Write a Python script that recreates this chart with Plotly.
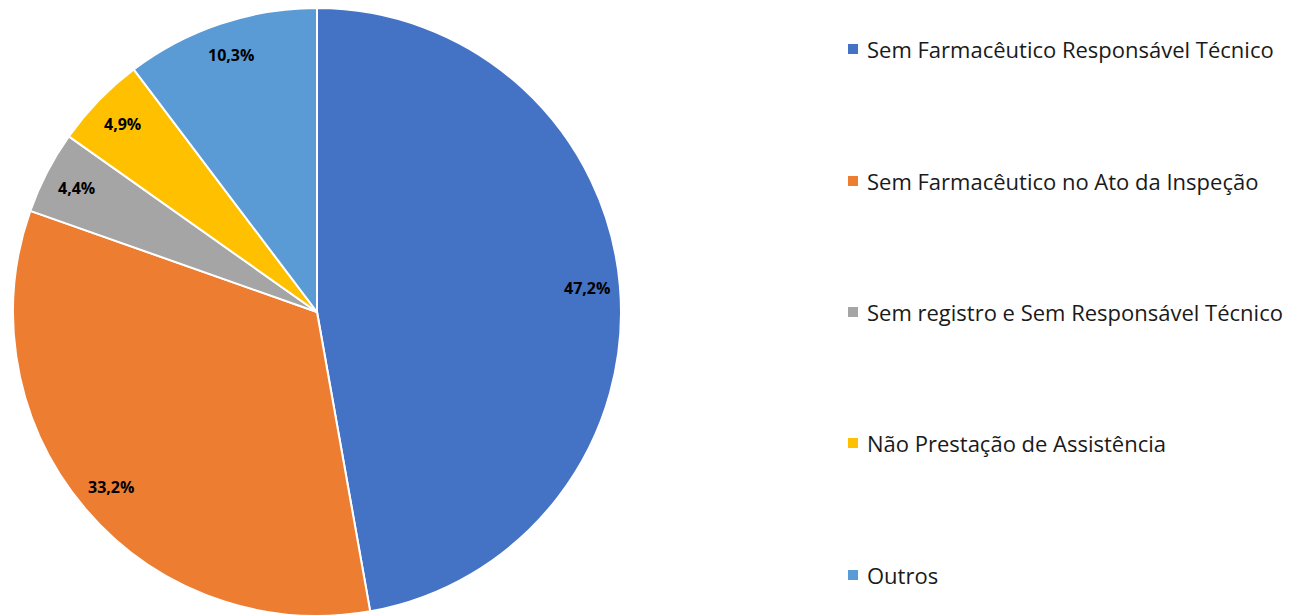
import math
import plotly.graph_objects as go

categories = [
    "Sem Farmacêutico Responsável Técnico",
    "Sem Farmacêutico no Ato da Inspeção",
    "Sem registro e Sem Responsável Técnico",
    "Não Prestação de Assistência",
    "Outros",
]
values = [47.2, 33.2, 4.4, 4.9, 10.3]
value_labels = ["47,2%", "33,2%", "4,4%", "4,9%", "10,3%"]
colors = ["#4472C4", "#ED7D31", "#A5A5A5", "#FFC000", "#5B9BD5"]

W, H = 1300, 616
OFF = 8  # page body margin
cx, cy, R = 317 - OFF, 312 - OFF, 304
dom_x = [(cx - R) / W, (cx + R) / W]
dom_y = [max(0, 1 - (cy + R) / H), min(1, 1 - (cy - R) / H)]

fig = go.Figure()
fig.add_trace(go.Pie(
    labels=categories, values=values, sort=False, direction="clockwise",
    rotation=0, textinfo="none", hoverinfo="label+percent",
    marker=dict(colors=colors, line=dict(color="white", width=2)),
    domain=dict(x=dom_x, y=dom_y), showlegend=False,
))

# data labels placed along each slice's mid-angle
total = sum(values)
cum = 0.0
for v, lab in zip(values, value_labels):
    mid = (cum + v / 2) / total * 360.0
    cum += v
    ang = math.radians(90 - mid)
    r = 0.89 * R
    px = cx + r * math.cos(ang)
    py = cy - r * math.sin(ang)
    fig.add_annotation(x=px / W, y=1 - py / H, xref="paper", yref="paper",
                       xanchor="center", yanchor="middle",
                       text="<b>" + lab + "</b>", showarrow=False,
                       font=dict(family="Open Sans, sans-serif", size=16, color="#000000"))

# legend
leg_y = [49, 181, 312, 443, 575]
for name, col, ly in zip(categories, colors, leg_y):
    ly = ly - OFF
    fig.add_shape(type="rect", xref="paper", yref="paper",
                  x0=(848 - OFF) / W, x1=(858 - OFF) / W, y0=1 - (ly + 5) / H, y1=1 - (ly - 5) / H,
                  fillcolor=col, line=dict(width=0))
    fig.add_annotation(x=(865 - OFF) / W, y=1 - ly / H, xref="paper", yref="paper",
                       text=name, showarrow=False, xanchor="left", yanchor="middle",
                       font=dict(family="Open Sans, sans-serif", size=22, color="#1a1a1a"))

fig.update_layout(width=W, height=H, margin=dict(l=0, r=0, t=0, b=0),
                  paper_bgcolor="white", plot_bgcolor="white")
fig.write_html("out.html")
